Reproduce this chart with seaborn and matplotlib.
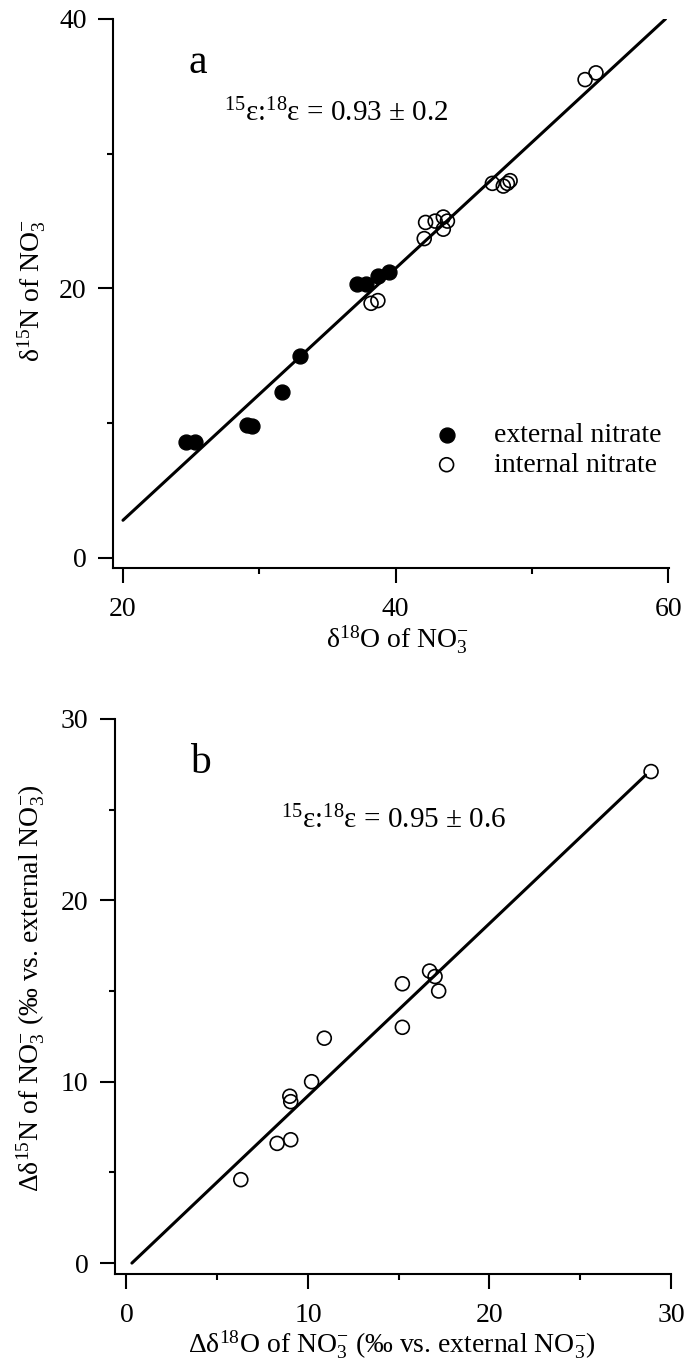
import numpy as np
import pandas as pd
import seaborn as sns
from matplotlib import pyplot as plt

# panel a: delta values of external / internal nitrate
ext_d18O = [24.6, 25.3, 29.1, 29.5, 31.7, 33.0, 37.2, 37.8, 38.7, 39.5]
ext_d15N = [8.6, 8.6, 9.9, 9.8, 12.3, 15.0, 20.3, 20.3, 20.9, 21.2]
int_d18O = [38.2, 38.7, 42.1, 42.2, 42.9, 43.5, 43.5, 43.8, 47.1, 47.9, 48.2, 48.4, 53.9, 54.7]
int_d15N = [18.9, 19.1, 23.7, 24.9, 25.0, 25.3, 24.4, 25.0, 27.8, 27.6, 27.8, 28.0, 35.5, 36.0]
fit_a_x = [20.0, 59.8]
fit_a_y = [2.8, 40.0]

# panel b: internal minus external
diff_d18O = [28.9, 16.7, 17.0, 15.2, 17.2, 15.2, 10.9, 10.2, 9.0, 9.05, 8.3, 9.05, 6.3]
diff_d15N = [27.1, 16.1, 15.8, 15.4, 15.0, 13.0, 12.4, 10.0, 9.2, 8.9, 6.6, 6.8, 4.6]
fit_b_x = [0.3, 28.6]
fit_b_y = [0.0, 26.9]

sns.set_style('ticks', rc={'axes.edgecolor': 'black', 'xtick.color': 'black',
                           'ytick.color': 'black', 'text.color': 'black',
                           'axes.labelcolor': 'black'})
plt.rcParams['font.family'] = ['Liberation Serif', 'DejaVu Serif']
plt.rcParams['mathtext.fontset'] = 'custom'
plt.rcParams['mathtext.rm'] = 'Liberation Serif'
plt.rcParams['mathtext.it'] = 'Liberation Serif:italic'
plt.rcParams['mathtext.default'] = 'regular'

FS = 20

def style_axis(ax, xmaj, xmin, ymaj, ymin):
	sns.despine(ax=ax)
	for s in ['left', 'bottom']:
		ax.spines[s].set_linewidth(1.5)
	ax.set_xticks(xmaj)
	ax.set_xticks(xmin, minor=True)
	ax.set_yticks(ymaj)
	ax.set_yticks(ymin, minor=True)
	ax.tick_params(which='major', length=11, width=1.5, labelsize=FS)
	ax.tick_params(which='minor', length=4, width=1.5)
	ax.tick_params(axis='x', which='major', pad=10)
	ax.tick_params(axis='y', which='major', pad=8)

fig = plt.figure(figsize=(6.85, 13.64), dpi=100)

# ---- panel a
ax = fig.add_axes([0.165, 0.5836, 0.8117, 0.4025])
sns.lineplot(x=fit_a_x, y=fit_a_y, color='black', linewidth=2.2, ax=ax)
sns.scatterplot(x=ext_d18O, y=ext_d15N, color='black', edgecolor='black', s=115,
                linewidth=1, label='external nitrate', ax=ax, zorder=3)
sns.scatterplot(x=int_d18O, y=int_d15N, color='black', facecolors='none', edgecolor='black',
                s=100, linewidth=1.2, label='internal nitrate', ax=ax, zorder=3)
ax.set_xlim(19.27, 60.06)
ax.set_ylim(-0.74, 40)
style_axis(ax, [20, 40, 60], [30, 50], [0, 20, 40], [10, 30])
ax.set_xlabel('δ$^{18}$O of NO$_3^{-}$', fontsize=FS)
ax.set_ylabel('δ$^{15}$N of NO$_3^{-}$', fontsize=FS)
ax.xaxis.set_label_coords(0.512, -0.10)
ax.yaxis.set_label_coords(-0.117, 0.506)
ax.text(25.5, 36.0, 'a', fontsize=30, ha='center', va='baseline')
ax.text(27.4, 33.0, '$^{15}$ε:$^{18}$ε = 0.93 ± 0.2', fontsize=21, ha='left', va='center')
ax.legend(loc='center left', bbox_to_anchor=(0.55, 0.214), frameon=False, fontsize=FS,
          handletextpad=0.7, borderpad=0, borderaxespad=0, labelspacing=0.15, handlelength=2)

# ---- panel b
ax = fig.add_axes([0.1679, 0.066, 0.8117, 0.4069])
sns.lineplot(x=fit_b_x, y=fit_b_y, color='black', linewidth=2.2, ax=ax)
sns.scatterplot(x=diff_d18O, y=diff_d15N, color='black', facecolors='none', edgecolor='black',
                s=100, linewidth=1.2, ax=ax, zorder=3, legend=False)
ax.set_xlim(-0.63, 30.0)
ax.set_ylim(-0.6, 30)
style_axis(ax, [0, 10, 20, 30], [5, 15, 25], [0, 10, 20, 30], [5, 15, 25])
ax.set_xlabel('Δδ$^{18}$O of NO$_3^{-}$ (‰ vs. external NO$_3^{-}$)', fontsize=FS)
ax.set_ylabel('Δδ$^{15}$N of NO$_3^{-}$ (‰ vs. external NO$_3^{-}$)', fontsize=FS)
ax.xaxis.set_label_coords(0.498, -0.097)
ax.yaxis.set_label_coords(-0.122, 0.515)
ax.text(4.05, 27.0, 'b', fontsize=30, ha='center', va='baseline')
ax.text(8.5, 24.4, '$^{15}$ε:$^{18}$ε = 0.95 ± 0.6', fontsize=21, ha='left', va='center')

fig.savefig('out.png', dpi=100)
